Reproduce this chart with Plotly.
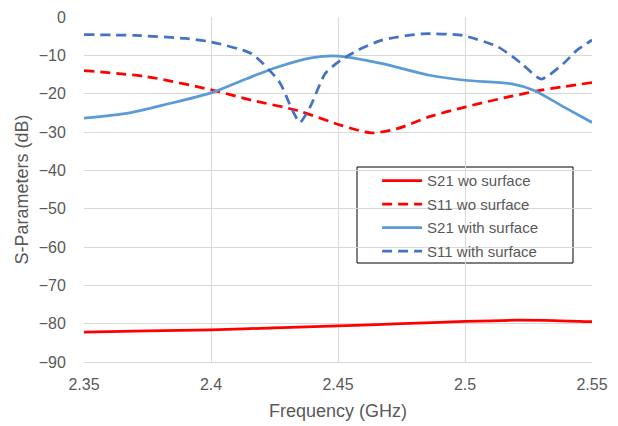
import plotly.graph_objects as go

# S21 without surface (solid red)
f_s21_wo = [2.35, 2.375, 2.40, 2.425, 2.45, 2.475, 2.50, 2.52, 2.535, 2.55]
s21_wo = [-82.2, -81.9, -81.6, -81.1, -80.6, -80.0, -79.4, -79.1, -79.2, -79.5]

# S11 without surface (dashed red)
f_s11_wo = [2.35, 2.375, 2.40, 2.416, 2.434, 2.451, 2.463, 2.473, 2.486, 2.50, 2.518, 2.53, 2.55]
s11_wo = [-14.0, -15.6, -19.0, -21.7, -24.4, -28.2, -30.2, -29.2, -26.0, -23.5, -20.7, -19.1, -17.1]

# S21 with surface (solid light blue)
f_s21_w = [2.35, 2.368, 2.381, 2.40, 2.414, 2.426, 2.44, 2.45, 2.467, 2.486, 2.50, 2.518, 2.527, 2.539, 2.55]
s21_w = [-26.4, -25.0, -23.0, -19.8, -16.1, -13.1, -10.6, -10.2, -12.1, -15.2, -16.5, -17.4, -19.1, -23.5, -27.5]

# S11 with surface (dashed blue)
f_s11_w = [2.35, 2.37, 2.39, 2.40, 2.416, 2.427, 2.432, 2.435, 2.439, 2.445, 2.451, 2.458, 2.467, 2.483, 2.499,
           2.513, 2.522, 2.530, 2.539, 2.544, 2.55]
s11_w = [-4.6, -4.8, -5.6, -6.5, -9.6, -17.0, -24.3, -27.5, -23.5, -14.7, -11.3, -8.6, -6.1, -4.4, -4.8,
         -7.8, -12.0, -16.2, -12.0, -8.7, -6.0]

x_ticks = [2.35, 2.4, 2.45, 2.5, 2.55]
x_tick_labels = ["2.35", "2.4", "2.45", "2.5", "2.55"]
y_ticks = [0, -10, -20, -30, -40, -50, -60, -70, -80, -90]

RED = "#FF0000"
LBLUE = "#5B9BD5"
DBLUE = "#4472C4"
GRAY = "#595959"
DASH = "10px,6px"
FONT = "Liberation Sans, Arial, sans-serif"

fig = go.Figure()
fig.add_trace(go.Scatter(x=f_s21_wo, y=s21_wo, mode="lines", name="S21 wo surface",
                         line=dict(color=RED, width=2.75, shape="spline", smoothing=0.8), legendgroup="a"))
fig.add_trace(go.Scatter(x=f_s11_wo, y=s11_wo, mode="lines", name="S11 wo surface",
                         line=dict(color=RED, width=2.75, dash=DASH, shape="spline", smoothing=0.8), legendgroup="b"))
fig.add_trace(go.Scatter(x=f_s21_w, y=s21_w, mode="lines", name="S21 with surface",
                         line=dict(color=LBLUE, width=2.75, shape="spline", smoothing=0.8), legendgroup="c"))
fig.add_trace(go.Scatter(x=f_s11_w, y=s11_w, mode="lines", name="S11 with surface",
                         line=dict(color=DBLUE, width=2.75, dash=DASH, shape="spline", smoothing=0.6), legendgroup="d"))

# page body has an 8px margin, so the figure is sized/offset to compensate
fig.update_layout(
    width=610, height=418,
    margin=dict(l=76, r=26, t=9, b=64, autoexpand=False),
    paper_bgcolor="white", plot_bgcolor="white",
    font=dict(family=FONT, color=GRAY, size=15),
    showlegend=True,
    legend=dict(x=0.577, y=0.573, xanchor="left", yanchor="top",
                bgcolor="rgba(0,0,0,0)", borderwidth=0,
                font=dict(size=15, color=GRAY), itemwidth=40,
                tracegroupgap=1),
    shapes=[dict(type="rect", xref="paper", yref="paper",
                 x0=(357 - 84) / 508, x1=(573 - 84) / 508,
                 y0=(362 - 263) / 345, y1=(362 - 167) / 345,
                 line=dict(color="black", width=1), fillcolor="white", layer="below")],
)
fig.update_xaxes(range=[2.35, 2.55], tickvals=x_ticks, ticktext=x_tick_labels,
                 showgrid=True, gridcolor="#D9D9D9", gridwidth=1, zeroline=False,
                 showline=True, linecolor="#D9D9D9", ticks="outside", ticklen=8,
                 tickcolor="rgba(0,0,0,0)", automargin=False,
                 title=dict(text="Frequency (GHz)", font=dict(size=18, color=GRAY), standoff=12),
                 tickfont=dict(size=16, color=GRAY))
fig.update_yaxes(range=[-90, 0], tickvals=y_ticks,
                 showgrid=True, gridcolor="#D9D9D9", gridwidth=1, zeroline=False,
                 showline=False, ticks="outside", ticklen=14, tickcolor="rgba(0,0,0,0)",
                 automargin=False,
                 title=dict(text="S-Parameters (dB)", font=dict(size=18, color=GRAY), standoff=5),
                 tickfont=dict(size=16, color=GRAY))

fig.write_html("out.html")
